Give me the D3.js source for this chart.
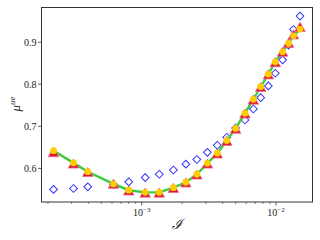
<!DOCTYPE html>
<html>
<head>
<meta charset="utf-8">
<script src="https://cdn.jsdelivr.net/npm/d3@7"></script>
<style>
  body { margin: 0; background: #fff; }
  svg text { font-family: "Liberation Serif", "DejaVu Serif", serif; fill: #222; }
</style>
</head>
<body>
<svg id="chart" width="320" height="240"></svg>
<script>
// values
const xs = [2.2e-4, 3.1e-4, 3.96e-4, 6.15e-4, 8.0e-4, 1.06e-3, 1.35e-3, 1.72e-3, 2.13e-3, 2.57e-3,
  3.08e-3, 3.65e-3, 4.3e-3, 5.0e-3, 5.87e-3, 6.78e-3, 7.69e-3, 8.77e-3, 9.88e-3, 1.12e-2,
  1.24e-2, 1.35e-2, 1.51e-2]
const diamonds = [0.550, 0.552, 0.556, 0.562, 0.568, 0.578, 0.586, 0.596, 0.610, 0.621,
  0.638, 0.655, 0.674, 0.696, 0.715, 0.741, 0.768, 0.796, 0.826, 0.858,
  0.893, 0.930, 0.962]
const circles = [0.642, 0.613, 0.592, 0.563, 0.548, 0.543, 0.543, 0.554, 0.567, 0.586,
  0.612, 0.636, 0.666, 0.695, 0.731, 0.764, 0.794, 0.824, 0.853, 0.877,
  0.897, 0.915, 0.931]
const triangles = [0.636, 0.609, 0.589, 0.561, 0.545, 0.540, 0.540, 0.551, 0.564, 0.583,
  0.609, 0.633, 0.663, 0.692, 0.728, 0.761, 0.791, 0.821, 0.850, 0.875,
  0.896, 0.916, 0.934]
const yTicks = [0.6, 0.7, 0.8, 0.9]
const xTicks = [1e-3, 1e-2]
const xTickExp = ['\u22123', '\u22122']

const svg = d3.select('#chart')
const L = 41.5, R = 312.5, T = 7.5, B = 202

const x = d3.scaleLog().domain([1.79e-4, 1.87e-2]).range([L, R])
const y = d3.scaleLinear().domain([0.52, 0.9824]).range([B, T])

const pts = (vals) => xs.map((v, i) => ({ x: v, y: vals[i] }))

// minor ticks on x
const minor = []
for (let e = -4; e <= -2; e++) {
  for (let m = 2; m <= 9; m++) {
    const v = m * Math.pow(10, e)
    if (v > x.domain()[0] && v < x.domain()[1]) minor.push(v)
  }
}
svg.append('g').selectAll('line').data(minor).enter().append('line')
    .attr('x1', d => x(d)).attr('x2', d => x(d))
    .attr('y1', B).attr('y2', B + 2)
    .attr('stroke', '#333').attr('stroke-width', 0.6)

svg.append('g').selectAll('line').data(xTicks).enter().append('line')
    .attr('x1', d => x(d)).attr('x2', d => x(d))
    .attr('y1', B).attr('y2', B + 3.5)
    .attr('stroke', '#333').attr('stroke-width', 0.8)

const xl = svg.append('g').selectAll('text').data(xTicks).enter().append('text')
    .attr('x', d => x(d)).attr('y', 216)
    .attr('text-anchor', 'middle')
    .style('font-size', '10px')
xl.append('tspan').text('10')
xl.append('tspan').text((d, i) => xTickExp[i])
    .attr('dy', -4).style('font-size', '7px')

svg.append('g').selectAll('line').data(yTicks).enter().append('line')
    .attr('x1', L - 3.5).attr('x2', L)
    .attr('y1', d => y(d)).attr('y2', d => y(d))
    .attr('stroke', '#333').attr('stroke-width', 0.8)

svg.append('g').selectAll('text').data(yTicks).enter().append('text')
    .attr('x', L - 5).attr('y', d => y(d) + 3.5)
    .attr('text-anchor', 'end')
    .style('font-size', '10px')
    .text(d => d.toFixed(1))

// data
const g = svg.append('g')

g.selectAll('path.dia').data(pts(diamonds)).enter().append('path')
    .attr('class', 'dia')
    .attr('d', d3.symbol().type(d3.symbolSquare).size(30))
    .attr('transform', d => 'translate(' + x(d.x) + ',' + y(d.y) + ') rotate(45)')
    .attr('fill', 'none').attr('stroke', '#3333ff').attr('stroke-width', 1)

g.append('path').datum(pts(circles))
    .attr('d', d3.line().x(d => x(d.x)).y(d => y(d.y)))
    .attr('fill', 'none').attr('stroke', '#3ccc3c').attr('stroke-width', 2.4)

const tri = d3.symbol().type(d3.symbolTriangle).size(48)
g.selectAll('path.tri').data(pts(triangles)).enter().append('path')
    .attr('class', 'tri')
    .attr('d', tri)
    .attr('transform', d => 'translate(' + x(d.x) + ',' + (y(d.y) + 0.5) + ')')
    .attr('fill', '#dc143c').attr('stroke', '#f06a88').attr('stroke-width', 0.8)

g.selectAll('circle.c').data(pts(circles)).enter().append('circle')
    .attr('class', 'c')
    .attr('cx', d => x(d.x)).attr('cy', d => y(d.y))
    .attr('r', 3.4)
    .attr('fill', '#ffcc00')

// frame
svg.append('rect')
    .attr('x', L).attr('y', T).attr('width', R - L).attr('height', B - T)
    .attr('fill', 'none').attr('stroke', '#333').attr('stroke-width', 1)

// axis labels
svg.append('text')
    .attr('x', 177).attr('y', 229)
    .attr('text-anchor', 'middle')
    .style('font-size', '14px').style('font-style', 'italic')
    .text('\u2110')

const yl = svg.append('text')
    .attr('transform', 'translate(20,104) rotate(-90)')
    .attr('text-anchor', 'middle')
    .style('font-size', '13px').style('font-style', 'italic')
yl.append('tspan').text('\u03bc')
yl.append('tspan').text('ue').attr('dy', -5).style('font-size', '9px')
</script>
</body>
</html>
